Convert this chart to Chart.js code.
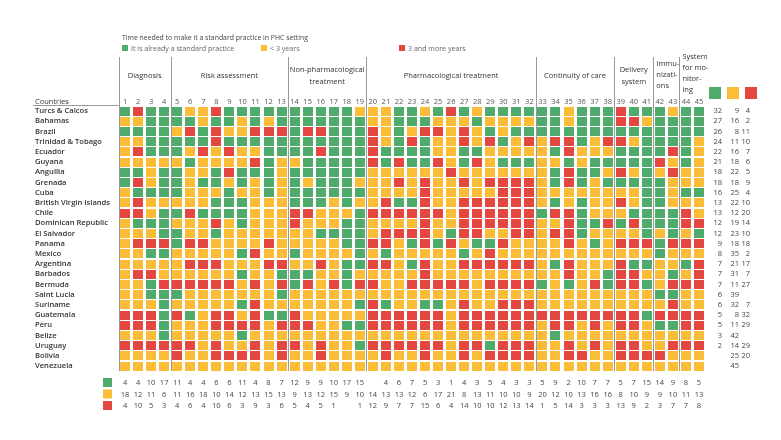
<!DOCTYPE html>
<html>
<head>
<meta charset="utf-8">
<script src="https://cdn.jsdelivr.net/npm/chart.js@4.4.0/dist/chart.umd.min.js"></script>
<style>
  html, body { margin: 0; padding: 0; background: #fff; }
  #contenedor { width: 781px; height: 440px; }
</style>
</head>
<body>
<div id="contenedor"><canvas id="grafico"></canvas></div>
<script>
const paises = ['Turcs & Calcos', 'Bahamas', 'Brazil', 'Trinidad & Tobago', 'Ecuador', 'Guyana', 'Anguilla',
    'Grenada', 'Cuba', 'British Virgin Islands', 'Chile', 'Dominican Republic', 'El Salvador', 'Panama', 'Mexico',
    'Argentina', 'Barbados', 'Bermuda', 'Saint Lucia', 'Suriname', 'Guatemala', 'Peru', 'Belize', 'Uruguay',
    'Bolivia', 'Venezuela']

const columnas = ['1', '2', '3', '4', '5', '6', '7', '8', '9', '10', '11', '12', '13', '14', '15', '16', '17', '18',
    '19', '20', '21', '22', '23', '24', '25', '26', '27', '28', '29', '30', '31', '32', '33', '34', '35', '36', '37',
    '38', '39', '40', '41', '42', '43', '44', '45']

const grupos = [
    { texto: ['Diagnosis'], desde: 1, hasta: 4 },
    { texto: ['Risk assessment'], desde: 5, hasta: 13 },
    { texto: ['Non-pharmacological', 'treatment'], desde: 14, hasta: 19 },
    { texto: ['Pharmacological treatment'], desde: 20, hasta: 32 },
    { texto: ['Continuity of care'], desde: 33, hasta: 38 },
    { texto: ['Delivery', 'system'], desde: 39, hasta: 41 },
    { texto: ['Immu-', 'nizati-', 'ons'], desde: 42, hasta: 43 },
    { texto: ['System', 'for mo-', 'nitor-', 'ing'], desde: 44, hasta: 45 }
]

// G = already a standard practice, Y = < 3 years, R = 3 and more years (columns 1-15, 16-30, 31-45)
const celdas = [
    'GRGGGYYRGGGGGGG GGGYYYGGYGRGYGG GGGGYGGGRGGGYGG',
    'YYGGGGYGGYGYGGG GGGGYYGGGYYYGYY YYGGYGGGRRYGGGG',
    'GGGGYRGRYYRRRGR RGGGRYGYRRYRYGY GGGGGGGGGGGGGGG',
    'YYGGGGGRGGGGGGG GGGGRYGRGYYRYRG YRYRRGYRRYGGGGY',
    'YRGGGYRYRYYGGGG RGGGRGGGGYYGGYY YYYGRYYYGGGGRGY',
    'YYYYYGYYYYRGYYG GGGGRGRGGRYGRYG GGYYGYGGGGGRYGY',
    'GGYGGYYGRGGGYGG GGGGYYYYYYRYYYY YYYGRGGYRYGYRYY',
    'GRYGGYGGYGYGYGY GGGYYYRYRYYRYRR RRYGRGYGGGGGYYY',
    'YGGGGYYYGYYGYGG GGGGYYYYRYYYYYR RRYYYYYYYYGGYGG',
    'YRYYYYYGGGYYYGG GYGYYRGGRYYRRRR RRYGYGYYRYGGYYY',
    'RRYGGRGGGGYYYRR YYYGRRRRRRYRRRR RRGRRGYYYGGGGRY',
    'YGGGYYYRYGYYYRY YYGGYYYYRYYRRRR RRYYRGGRGRGGGRR',
    'YYYGGYYGYYYYYYY GGGGYRRRRYGRRYY RRYRRGYYYYGYGYG',
    'YRRRGRRYYYYRYYY YYGGRRYGRGRYGGR YYYYRYGYRRRGRRR',
    'YYGGYYYYYGRYYGY YYYGYGYYYYYGYRY YYYYYYYYYYYGYYY',
    'YYYYYRRRYYYRRYY RYGGRRYGRYYRRRR RRYGRYYYRGGYYGR',
    'YRRYYYYYYGYYGGG YYGYYYYYRYYYYYY YYYYRYYGRRYYGYR',
    'YYGRRRRRRYRYRGR YRGRRYYRRRRRYRR RRGYGYRGRRGYRRR',
    'YYGGGYYYYYYYGYY YYYYYYYYYYYYYYY YYYYYYYYYYYGGYY',
    'YYYGYYYYYGRYYYY YYYGRGYYGGYRYYR RRYYYYYYYYYYRYY',
    'RRRGRGYRRYRGGRY YYYYRRRRRRYRRRR RRRRRRRRRRGRRRR',
    'RRRGYYYRRRRYRRR YYGGRRRRRRYRRRR RRYRRYRYRRYGGRR',
    'YYYGYYYYYGYYYYY YYYYYYYYYYYYYYY YYYGYYYYYYYYYYY',
    'RRRRRRYRYYRYRRY RYYGRRRRRRYRRGR RRYYRYRYRRYYRRR',
    'YYYYRYYRRRRYRYY RYYYYRYYRYYRYRR RRYYRRYYRRRRYYY',
    'YYYYYYYYYYYYYYY YYYYYYYYYYYYYYY YYYYYYYYYYYYYYY'
]

// totals per country (right) and per column (bottom)
const verdesPais = [32, 27, 26, 24, 22, 21, 18, 18, 16, 13, 13, 12, 12, 9, 8, 7, 7, 7, 6, 6, 5, 5, 3, 2, null, null]
const amarillosPais = [9, 16, 8, 11, 16, 18, 22, 18, 25, 22, 12, 19, 23, 18, 35, 21, 31, 11, 39, 32, 8, 11, 42, 14, 25, 45]
const rojosPais = [4, 2, 11, 10, 7, 6, 5, 9, 4, 10, 20, 14, 10, 18, 2, 17, 7, 27, null, 7, 32, 29, null, 29, 20, null]

const verdesCol = [4, 4, 10, 17, 11, 4, 4, 6, 6, 11, 4, 8, 7, 12, 9, 9, 10, 17, 15, null, 4, 6, 7, 5, 3, 1, 4, 3,
    5, 4, 3, 3, 5, 9, 2, 10, 7, 7, 5, 7, 15, 14, 9, 8, 5]
const amarillosCol = [18, 12, 11, 6, 11, 16, 18, 10, 14, 12, 13, 15, 13, 9, 13, 12, 15, 9, 10, 14, 13, 13, 12, 6, 17,
    21, 8, 13, 11, 10, 10, 9, 20, 12, 10, 13, 16, 16, 8, 10, 9, 9, 10, 11, 13]
const rojosCol = [4, 10, 5, 3, 4, 6, 4, 10, 6, 3, 9, 3, 6, 5, 4, 5, 1, null, 1, 12, 9, 7, 7, 15, 6, 4, 14, 10, 10,
    12, 13, 14, 1, 5, 14, 3, 3, 3, 13, 9, 2, 3, 7, 7, 8]

const colores = { G: '#4fab6c', Y: '#fbbd38', R: '#e4473f' }
const fuente = '"Open Sans", "Noto Sans", sans-serif'

const crearCuadro = (color) => {
    const c = document.createElement('canvas')
    c.width = 10
    c.height = 9
    const cx = c.getContext('2d')
    cx.fillStyle = color
    cx.fillRect(0, 0, 10, 9)
    return c
}

const puntosDe = (letra) => {
    const puntos = []
    celdas.forEach((fila, i) => {
        fila.replace(/ /g, '').split('').forEach((valor, j) => {
            if (valor === letra) puntos.push({ x: j + 1, y: i })
        })
    })
    return puntos
}

const texto = (ctx, t, x, y, align, size, color, weight) => {
    ctx.font = `${weight || 'normal'} ${size}px ${fuente}`
    ctx.fillStyle = color
    ctx.textAlign = align
    ctx.textBaseline = 'middle'
    ctx.fillText(t, x, y)
}

const decoracion = {
    id: 'decoracion',
    afterDatasetsDraw(chart) {
        const { ctx, scales: { x, y } } = chart
        ctx.save()

        // title and legend
        texto(ctx, 'Time needed to make it a standard practice in PHC setting', 122, 38, 'left', 6.9, '#444')
        const leyenda = [['G', 'It is already a standard practice', 122], ['Y', '< 3 years', 261], ['R', '3 and more years', 399]]
        leyenda.forEach(([letra, t, lx]) => {
            ctx.fillStyle = colores[letra]
            ctx.fillRect(lx, 45, 6, 6)
            texto(ctx, t, lx + 9, 48.5, 'left', 7.1, '#666')
        })

        // group separators
        ctx.strokeStyle = '#9a9a9a'
        ctx.lineWidth = 1
        const cortes = [0].concat(grupos.map(g => g.hasta)).slice(0, grupos.length)
        cortes.forEach(c => {
            const px = Math.round(x.getPixelForValue(c + 0.5)) + 0.5
            ctx.beginPath()
            ctx.moveTo(px, 57)
            ctx.lineTo(px, y.bottom)
            ctx.stroke()
        })

        // group headers
        grupos.forEach(g => {
            const izq = x.getPixelForValue(g.desde - 0.5)
            const centro = (x.getPixelForValue(g.desde) + x.getPixelForValue(g.hasta)) / 2
            const n = g.texto.length
            const alto = n > 2 ? 11 : 11.5
            const y0 = n === 4 ? 57 : n === 3 ? 64 : 76 - (n - 1) * alto / 2
            g.texto.forEach((linea, k) => {
                if (g.hasta - g.desde < 2) {
                    texto(ctx, linea, izq + 3, y0 + k * alto, 'left', 7.5, '#333')
                } else {
                    texto(ctx, linea, centro, y0 + k * alto, 'center', 7.5, '#333')
                }
            })
        })

        // column numbers
        columnas.forEach((c, j) => {
            texto(ctx, c, x.getPixelForValue(j + 1), 101.5, 'center', 7.5, '#555')
        })

        // countries
        texto(ctx, 'Countries', 35, 101.5, 'left', 7.5, '#333')
        ctx.strokeStyle = '#9a9a9a'
        ctx.beginPath()
        ctx.moveTo(33, 105.5)
        ctx.lineTo(x.left, 105.5)
        ctx.stroke()
        paises.forEach((p, i) => {
            texto(ctx, p, 35, y.getPixelForValue(i), 'left', 7.6, '#333', '600')
        })

        // right totals
        ;['G', 'Y', 'R'].forEach((letra, k) => {
            ctx.fillStyle = colores[letra]
            ctx.fillRect(709 + k * 18, 87, 12, 12)
        })
        const derecha = [verdesPais, amarillosPais, rojosPais]
        const xsDerecha = [722, 739, 750]
        derecha.forEach((serie, k) => {
            serie.forEach((v, i) => {
                if (v !== null) texto(ctx, String(v), xsDerecha[k], y.getPixelForValue(i), 'right', 7.5, '#444')
            })
        })

        // bottom totals
        const abajo = [verdesCol, amarillosCol, rojosCol]
        ;['G', 'Y', 'R'].forEach((letra, k) => {
            ctx.fillStyle = colores[letra]
            ctx.fillRect(103, 378 + k * 11.5, 9, 9)
            abajo[k].forEach((v, j) => {
                if (v !== null) texto(ctx, String(v), x.getPixelForValue(j + 1), 383 + k * 11.5, 'center', 7.5, '#444')
            })
        })

        ctx.restore()
    }
}

const ctx = document.getElementById('grafico').getContext('2d')
const grafico = new Chart(ctx, {
    type: 'scatter',
    data: {
        datasets: ['G', 'Y', 'R'].map(letra => ({
            label: letra,
            data: puntosDe(letra),
            pointStyle: crearCuadro(colores[letra]),
            pointRadius: 5,
            pointHoverRadius: 5
        }))
    },
    options: {
        responsive: true,
        maintainAspectRatio: false,
        devicePixelRatio: 1,
        animation: false,
        events: [],
        layout: { padding: { left: 118.5, right: 75.5, top: 105.9, bottom: 68.9 } },
        plugins: { legend: { display: false }, tooltip: { enabled: false } },
        scales: {
            x: { type: 'linear', min: 0.5, max: 45.5, display: false },
            y: { type: 'linear', min: -0.5, max: 25.5, reverse: true, display: false }
        }
    },
    plugins: [decoracion]
})
</script>
</body>
</html>
